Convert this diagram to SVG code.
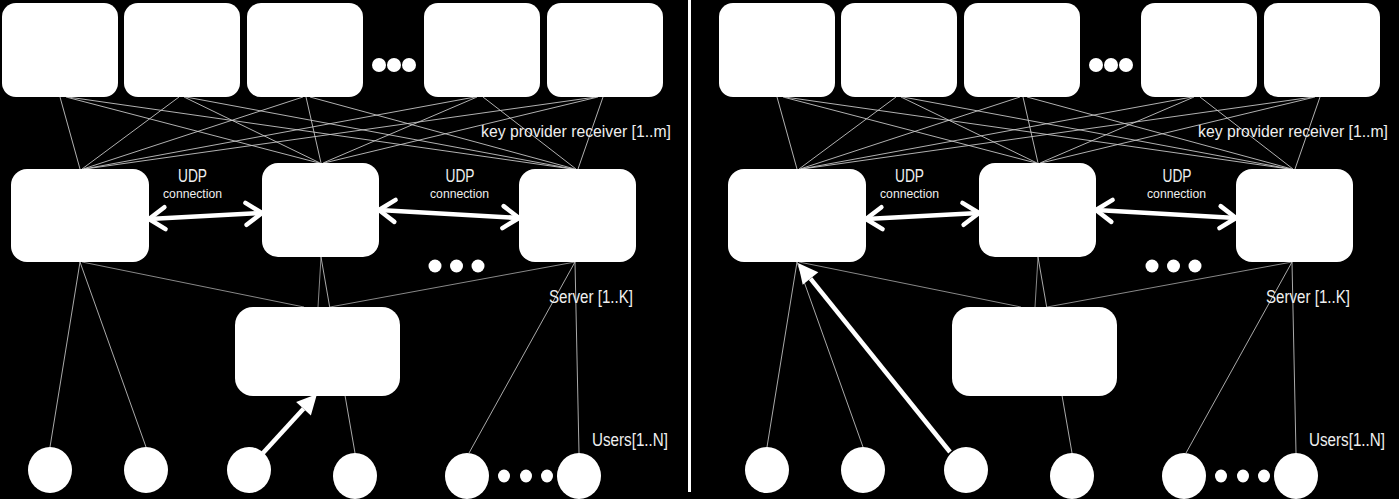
<svg xmlns="http://www.w3.org/2000/svg" width="1399" height="499" viewBox="0 0 1399 499">
<style>
  .bg{fill:#000}
  .kp{fill:#fff}
  .srv{fill:#fff}
  .usr{fill:#fff}
  .dot{fill:#fff}
  .mesh{stroke:#d0d0d0;stroke-width:0.85;fill:none}
  .dim{stroke:#a0a0a0;stroke-width:0.85;fill:none}
  .ul{stroke:#c8c8c8;stroke-width:0.85;fill:none}
  .udp{stroke:#fff;stroke-width:4.5;fill:none;marker-start:url(#chev);marker-end:url(#chev)}
  .req{stroke:#fff;stroke-width:4.5;fill:none;marker-end:url(#head)}
  .lbl{fill:#efefef;font-family:"Liberation Sans",Arial,sans-serif;font-size:17.5px}
  .kpl{fill:#efefef;font-family:"Liberation Sans",Arial,sans-serif;font-size:16px}
  .sm{fill:#efefef;font-family:"Liberation Sans",Arial,sans-serif;font-size:13.5px}
  .div{stroke:#fff;stroke-width:3}
</style>
<defs>
  <marker id="chev" markerUnits="userSpaceOnUse" viewBox="-20 -14 24 28" refX="0" refY="0" markerWidth="24" markerHeight="28" orient="auto-start-reverse" overflow="visible">
    <path d="M-16,-11 L0,0 L-16,11" fill="none" stroke="#fff" stroke-width="4.5" stroke-linecap="round" stroke-linejoin="round"/>
  </marker>
  <marker id="head" markerUnits="userSpaceOnUse" viewBox="-20 -11 20 22" refX="-20" refY="0" markerWidth="20" markerHeight="22" orient="auto" overflow="visible">
    <path d="M-20,-10 L0,0 L-20,10 Z" fill="#fff"/>
  </marker>
</defs>
<rect class="bg" x="0" y="0" width="1399" height="499"/>

<!-- LEFT PANEL -->
<g id="left-panel">
  <g id="L-connectors">
    <line class="mesh" x1="60" y1="97" x2="80" y2="169"/>
    <line class="mesh" x1="66" y1="97" x2="319" y2="163"/>
    <line class="mesh" x1="68" y1="97" x2="572" y2="169"/>
    <line class="mesh" x1="179" y1="97" x2="82" y2="169"/>
    <line class="mesh" x1="184" y1="97" x2="320" y2="163"/>
    <line class="mesh" x1="186" y1="97" x2="573" y2="169"/>
    <line class="mesh" x1="303" y1="97" x2="83" y2="169"/>
    <line class="mesh" x1="306" y1="97" x2="321" y2="163"/>
    <line class="mesh" x1="310" y1="97" x2="575" y2="169"/>
    <line class="mesh" x1="475" y1="97" x2="84" y2="169"/>
    <line class="mesh" x1="477" y1="97" x2="323" y2="163"/>
    <line class="mesh" x1="483" y1="97" x2="576" y2="169"/>
    <line class="mesh" x1="596" y1="97" x2="85" y2="169"/>
    <line class="mesh" x1="598" y1="97" x2="324" y2="163"/>
    <line class="mesh" x1="603" y1="97" x2="578" y2="169"/>
    <line class="dim" x1="82" y1="262" x2="304" y2="307"/>
    <line class="dim" x1="321" y1="257" x2="318" y2="307"/>
    <line class="dim" x1="575" y1="262" x2="330" y2="307"/>
    <line class="ul" x1="321" y1="257" x2="355" y2="453"/>
    <line class="ul" x1="80" y1="262" x2="50" y2="447"/>
    <line class="ul" x1="80" y1="262" x2="146" y2="447"/>
    <line class="ul" x1="575" y1="262" x2="469" y2="453"/>
    <line class="ul" x1="575" y1="262" x2="579" y2="453"/>
    <line class="udp" x1="149" y1="219" x2="262" y2="213"/>
    <line class="udp" x1="379" y1="210" x2="519" y2="218"/>
    <line class="req" x1="263" y1="453" x2="303.5" y2="408.8"/>
  </g>
  <g id="L-kp1"><rect class="kp" x="2" y="3" width="116" height="94" rx="14"/></g>
  <g id="L-kp2"><rect class="kp" x="124" y="3" width="116" height="94" rx="14"/></g>
  <g id="L-kp3"><rect class="kp" x="247" y="3" width="116" height="94" rx="14"/></g>
  <g id="L-kp-dots"><circle class="dot" cx="379" cy="65" r="7"/><circle class="dot" cx="394" cy="65" r="7"/><circle class="dot" cx="409" cy="65" r="7"/></g>
  <g id="L-kp4"><rect class="kp" x="424" y="3" width="116" height="94" rx="14"/></g>
  <g id="L-kp5"><rect class="kp" x="547" y="3" width="116" height="94" rx="14"/></g>
  <g id="L-srvA"><rect class="srv" x="11" y="169" width="138" height="93" rx="16"/></g>
  <g id="L-srvB"><rect class="srv" x="262" y="163" width="117" height="94" rx="16"/></g>
  <g id="L-srvC"><rect class="srv" x="519" y="169" width="117" height="93" rx="16"/></g>
  <g id="L-srv-dots"><circle class="dot" cx="435" cy="266" r="6.5"/><circle class="dot" cx="456.5" cy="266" r="6.5"/><circle class="dot" cx="478" cy="266" r="6.5"/></g>
  <g id="L-key"><rect class="srv" x="235" y="307" width="165" height="89" rx="18"/></g>
  <g id="L-u1"><ellipse class="usr" cx="50" cy="470" rx="22" ry="23"/></g>
  <g id="L-u2"><ellipse class="usr" cx="146" cy="470" rx="22" ry="23"/></g>
  <g id="L-u3"><ellipse class="usr" cx="249" cy="470" rx="22" ry="23"/></g>
  <g id="L-u4"><ellipse class="usr" cx="355" cy="476" rx="22" ry="23"/></g>
  <g id="L-u5"><ellipse class="usr" cx="467" cy="476" rx="22" ry="23"/></g>
  <g id="L-u-dots"><ellipse class="dot" cx="504" cy="476" rx="6" ry="6.5"/><ellipse class="dot" cx="526" cy="476" rx="6" ry="6.5"/><ellipse class="dot" cx="547" cy="476" rx="6" ry="6.5"/></g>
  <g id="L-u6"><ellipse class="usr" cx="579" cy="476" rx="22" ry="23"/></g>
  <g id="L-labels">
    <text class="kpl" x="481" y="137" textLength="190" lengthAdjust="spacingAndGlyphs">key provider receiver [1..m]</text>
    <text class="lbl" x="192.5" y="182" text-anchor="middle" textLength="29" lengthAdjust="spacingAndGlyphs">UDP</text>
    <text class="sm" x="192.5" y="198" text-anchor="middle" textLength="59" lengthAdjust="spacingAndGlyphs">connection</text>
    <text class="lbl" x="460" y="182" text-anchor="middle" textLength="29" lengthAdjust="spacingAndGlyphs">UDP</text>
    <text class="sm" x="459.5" y="198" text-anchor="middle" textLength="59" lengthAdjust="spacingAndGlyphs">connection</text>
    <text class="lbl" x="549" y="303" textLength="84" lengthAdjust="spacingAndGlyphs">Server [1..K]</text>
    <text class="lbl" x="592" y="446" textLength="76" lengthAdjust="spacingAndGlyphs">Users[1..N]</text>
  </g>
</g>

<line id="divider" class="div" x1="689.5" y1="0" x2="689.5" y2="492"/>

<!-- RIGHT PANEL -->
<g id="right-panel" transform="translate(717,0)">
  <g id="R-connectors">
    <line class="mesh" x1="60" y1="97" x2="80" y2="169"/>
    <line class="mesh" x1="66" y1="97" x2="319" y2="163"/>
    <line class="mesh" x1="68" y1="97" x2="572" y2="169"/>
    <line class="mesh" x1="179" y1="97" x2="82" y2="169"/>
    <line class="mesh" x1="184" y1="97" x2="320" y2="163"/>
    <line class="mesh" x1="186" y1="97" x2="573" y2="169"/>
    <line class="mesh" x1="303" y1="97" x2="83" y2="169"/>
    <line class="mesh" x1="306" y1="97" x2="321" y2="163"/>
    <line class="mesh" x1="310" y1="97" x2="575" y2="169"/>
    <line class="mesh" x1="475" y1="97" x2="84" y2="169"/>
    <line class="mesh" x1="477" y1="97" x2="323" y2="163"/>
    <line class="mesh" x1="483" y1="97" x2="576" y2="169"/>
    <line class="mesh" x1="596" y1="97" x2="85" y2="169"/>
    <line class="mesh" x1="598" y1="97" x2="324" y2="163"/>
    <line class="mesh" x1="603" y1="97" x2="578" y2="169"/>
    <line class="dim" x1="82" y1="262" x2="304" y2="307"/>
    <line class="dim" x1="321" y1="257" x2="318" y2="307"/>
    <line class="dim" x1="575" y1="262" x2="330" y2="307"/>
    <line class="ul" x1="321" y1="257" x2="355" y2="453"/>
    <line class="ul" x1="80" y1="262" x2="50" y2="447"/>
    <line class="ul" x1="80" y1="262" x2="146" y2="447"/>
    <line class="ul" x1="575" y1="262" x2="469" y2="453"/>
    <line class="ul" x1="575" y1="262" x2="579" y2="453"/>
    <line class="udp" x1="149" y1="219" x2="262" y2="213"/>
    <line class="udp" x1="379" y1="210" x2="519" y2="218"/>
    <line class="req" x1="233" y1="452" x2="93.5" y2="278.6"/>
  </g>
  <g id="R-kp1"><rect class="kp" x="2" y="3" width="116" height="94" rx="14"/></g>
  <g id="R-kp2"><rect class="kp" x="124" y="3" width="116" height="94" rx="14"/></g>
  <g id="R-kp3"><rect class="kp" x="247" y="3" width="116" height="94" rx="14"/></g>
  <g id="R-kp-dots"><circle class="dot" cx="379" cy="65" r="7"/><circle class="dot" cx="394" cy="65" r="7"/><circle class="dot" cx="409" cy="65" r="7"/></g>
  <g id="R-kp4"><rect class="kp" x="424" y="3" width="116" height="94" rx="14"/></g>
  <g id="R-kp5"><rect class="kp" x="547" y="3" width="116" height="94" rx="14"/></g>
  <g id="R-srvA"><rect class="srv" x="11" y="169" width="138" height="93" rx="16"/></g>
  <g id="R-srvB"><rect class="srv" x="262" y="163" width="117" height="94" rx="16"/></g>
  <g id="R-srvC"><rect class="srv" x="519" y="169" width="117" height="93" rx="16"/></g>
  <g id="R-srv-dots"><circle class="dot" cx="435" cy="266" r="6.5"/><circle class="dot" cx="456.5" cy="266" r="6.5"/><circle class="dot" cx="478" cy="266" r="6.5"/></g>
  <g id="R-key"><rect class="srv" x="235" y="307" width="165" height="89" rx="18"/></g>
  <g id="R-u1"><ellipse class="usr" cx="50" cy="470" rx="22" ry="23"/></g>
  <g id="R-u2"><ellipse class="usr" cx="146" cy="470" rx="22" ry="23"/></g>
  <g id="R-u3"><ellipse class="usr" cx="249" cy="470" rx="22" ry="23"/></g>
  <g id="R-u4"><ellipse class="usr" cx="355" cy="476" rx="22" ry="23"/></g>
  <g id="R-u5"><ellipse class="usr" cx="467" cy="476" rx="22" ry="23"/></g>
  <g id="R-u-dots"><ellipse class="dot" cx="504" cy="476" rx="6" ry="6.5"/><ellipse class="dot" cx="526" cy="476" rx="6" ry="6.5"/><ellipse class="dot" cx="547" cy="476" rx="6" ry="6.5"/></g>
  <g id="R-u6"><ellipse class="usr" cx="579" cy="476" rx="22" ry="23"/></g>
  <g id="R-labels">
    <text class="kpl" x="481" y="137" textLength="190" lengthAdjust="spacingAndGlyphs">key provider receiver [1..m]</text>
    <text class="lbl" x="192.5" y="182" text-anchor="middle" textLength="29" lengthAdjust="spacingAndGlyphs">UDP</text>
    <text class="sm" x="192.5" y="198" text-anchor="middle" textLength="59" lengthAdjust="spacingAndGlyphs">connection</text>
    <text class="lbl" x="460" y="182" text-anchor="middle" textLength="29" lengthAdjust="spacingAndGlyphs">UDP</text>
    <text class="sm" x="459.5" y="198" text-anchor="middle" textLength="59" lengthAdjust="spacingAndGlyphs">connection</text>
    <text class="lbl" x="549" y="303" textLength="84" lengthAdjust="spacingAndGlyphs">Server [1..K]</text>
    <text class="lbl" x="592" y="446" textLength="76" lengthAdjust="spacingAndGlyphs">Users[1..N]</text>
  </g>
</g>
</svg>
